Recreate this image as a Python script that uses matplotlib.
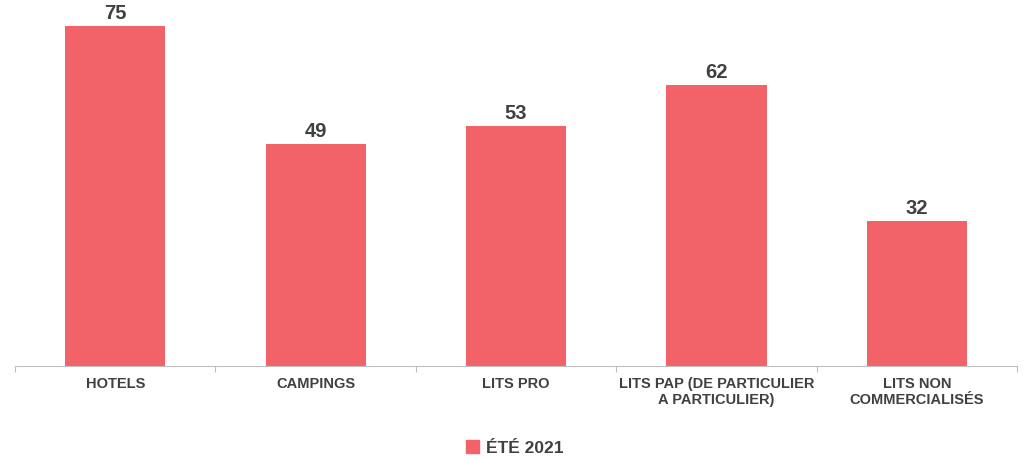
import matplotlib.pyplot as plt
import numpy as np
from matplotlib.patches import Patch

categories = ["HOTELS", "CAMPINGS", "LITS PRO",
              "LITS PAP (DE PARTICULIER\nA PARTICULIER)", "LITS NON\nCOMMERCIALISÉS"]
values = [75, 49, 53, 62, 32]
series_name = "ÉTÉ 2021"

bar_color = "#F26369"
text_color = "#404040"

plt.rcParams["font.family"] = ["Liberation Sans", "DejaVu Sans"]

fig = plt.figure(figsize=(10.24, 4.61), dpi=100)
ax = fig.add_axes([15 / 1024, 95 / 461, 1002 / 1024, 366 / 461])

x = np.arange(len(categories))
bars = ax.bar(x, values, width=0.5, color=bar_color)
for b, v in zip(bars, values):
    ax.text(b.get_x() + b.get_width() / 2, v + 0.6, str(v), ha="center", va="bottom",
            fontsize=14.5, fontweight="bold", color=text_color)

ax.set_xlim(-0.5, len(categories) - 0.5)
ax.set_ylim(0, 80.7)
ax.set_yticks([])
for s in ["top", "right", "left"]:
    ax.spines[s].set_visible(False)
ax.spines["bottom"].set_color("#BFBFBF")

# tick marks sit between categories, labels centred under bars
ax.set_xticks(np.arange(-0.5, len(categories)), minor=False)
ax.set_xticklabels([])
ax.tick_params(axis="x", length=4, color="#BFBFBF", direction="out")
ax.set_xticks(x, minor=True)
ax.set_xticklabels(categories, minor=True, fontsize=10.5, fontweight="bold", color=text_color)
ax.tick_params(axis="x", which="minor", length=0, pad=8)

fig.legend(handles=[Patch(color=bar_color, label=series_name)], loc="center",
           bbox_to_anchor=(515 / 1024, 1 - 448 / 461), frameon=False,
           handlelength=0.75, handleheight=0.75, handletextpad=0.4,
           prop={"size": 12.5, "weight": "bold"}, labelcolor=text_color)

fig.savefig("out.png", dpi=100)
